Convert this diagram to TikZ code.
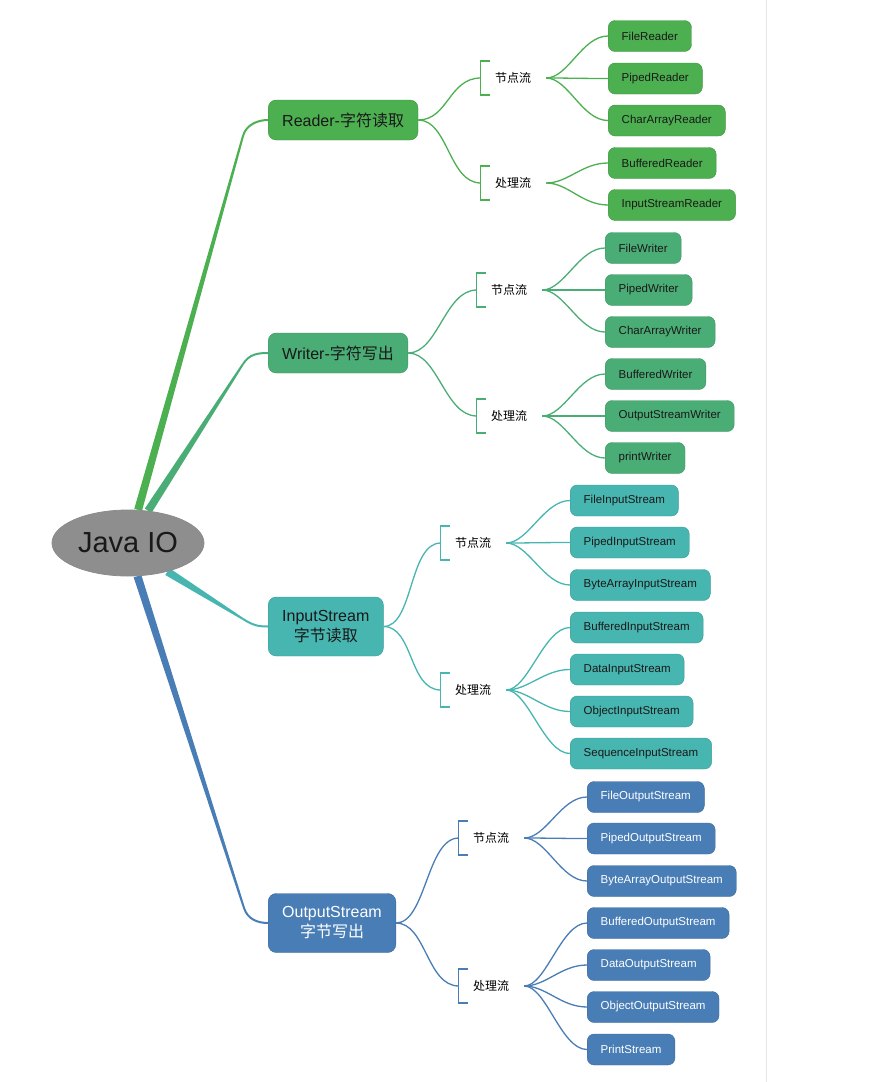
\documentclass[tikz,border=0pt]{standalone}
\usepackage{fontspec}
\setmainfont{Liberation Sans}
\newfontfamily\cjk{Noto Sans CJK SC}
\usetikzlibrary{calc,shapes.geometric,backgrounds}
\definecolor{hijau}{HTML}{4CAF50}
\definecolor{hijaut}{HTML}{4BAD76}
\definecolor{tosca}{HTML}{47B5B0}
\definecolor{biru}{HTML}{497DB5}
\definecolor{abu}{HTML}{8E8E8E}

% batang utama meruncing: warna, titik awal, titik tekuk, node tujuan
\newcommand\batang[4]{%
  \fill[#1] ($(#2)!4pt!90:(#3)$) -- ($(#3)!1pt!-90:(#2)$)
    -- ($(#3)!1pt!90:(#2)$) -- ($(#2)!4pt!-90:(#3)$) -- cycle;
  \draw[#1,line width=2pt] (#3) .. controls ($(#3)!-12pt!(#2)$) and +(-10,0) .. (#4.west);}

\begin{document}
\begin{tikzpicture}[x=1pt,y=-1pt]
    % Sumbu y dibalik, koordinat langsung dalam piksel gambar acuan.
    \tikzset{
      akar/.style={ellipse,draw=black!45,fill=abu,line width=0.8pt,
        minimum width=152pt,minimum height=66pt,inner sep=0pt,
        font=\fontsize{29}{32}\selectfont,text=black!90},
      kategori/.style={draw=#1!85!black,fill=#1,rounded corners=8pt,
        inner xsep=14pt,inner ysep=0pt,minimum height=40pt,anchor=west,
        align=center,font=\fontsize{16}{20}\selectfont,text=black!90},
      daun/.style={draw=#1!85!black,fill=#1,rounded corners=7pt,
        inner xsep=13.5pt,inner ysep=0pt,minimum height=31pt,anchor=west,
        font=\fontsize{11.5}{13}\selectfont,text=black!90},
      sub/.style={inner sep=0pt,font=\cjk\fontsize{12}{14}\selectfont},
      garis/.style={draw=#1,line width=1.3pt}}
    \useasboundingbox (0,0) rectangle (880,1082);
    \draw[black!10,line width=1pt] (766,0) -- (766,1082);

    % Akar dan empat kategori
    \node[akar] (root) at (128,543) {Java IO};
    \node[kategori=hijau] (Reader) at (268,120) {Reader-{\cjk 字符读取}};
    \node[kategori=hijaut] (Writer) at (268,353) {Writer-{\cjk 字符写出}};
    \node[kategori=tosca,minimum height=59pt] (InputStream) at (268,626.5)
      {InputStream\\{\cjk 字节读取}};
    \node[kategori=biru,minimum height=59pt,text=white] (OutputStream) at (268,923)
      {OutputStream\\{\cjk 字节写出}};

    % Label 节点流 / 处理流 dengan kurung siku
    \node[sub] (rNode) at (513,78) {节点流};
    \node[sub] (rProc) at (513,183) {处理流};
    \node[sub] (wNode) at (509,290) {节点流};
    \node[sub] (wProc) at (509,416) {处理流};
    \node[sub] (iNode) at (473,543) {节点流};
    \node[sub] (iProc) at (473,690) {处理流};
    \node[sub] (oNode) at (491,838) {节点流};
    \node[sub] (oProc) at (491,986) {处理流};
    \foreach \s/\w in {rNode/hijau,rProc/hijau,wNode/hijaut,wProc/hijaut,
                       iNode/tosca,iProc/tosca,oNode/biru,oProc/biru} {
      \draw[garis=\w] ($(\s.west)+(-5,-17)$) -- ($(\s.west)+(-14,-17)$)
        -- ($(\s.west)+(-14,17)$) -- ($(\s.west)+(-5,17)$);
      \coordinate (\s-k) at ($(\s.west)+(-14,0)$);
      \coordinate (\s-f) at ($(\s.east)+(15,0)$);
    }
    \foreach \c/\s/\w in {Reader/rNode/hijau,Reader/rProc/hijau,
                          Writer/wNode/hijaut,Writer/wProc/hijaut,
                          InputStream/iNode/tosca,InputStream/iProc/tosca,
                          OutputStream/oNode/biru,OutputStream/oProc/biru}
      \draw[garis=\w] (\c.east) .. controls +(30,0) and +(-32,0) .. (\s-k);

    % Daun: kelas-kelas konkret
    \foreach \leaf/\y/\s in {FileReader/36/rNode,PipedReader/78.5/rNode,
        CharArrayReader/120.5/rNode,BufferedReader/163/rProc,
        InputStreamReader/205/rProc} {
      \node[daun=hijau] (\leaf) at (608,\y) {\leaf};
      \draw[garis=hijau] (\s-f) .. controls +(22,0) and +(-26,0) .. (\leaf.west);
    }
    \foreach \leaf/\y/\s in {FileWriter/248/wNode,PipedWriter/290/wNode,
        CharArrayWriter/332/wNode,BufferedWriter/374/wProc,
        OutputStreamWriter/416/wProc,printWriter/458/wProc} {
      \node[daun=hijaut] (\leaf) at (605,\y) {\leaf};
      \draw[garis=hijaut] (\s-f) .. controls +(22,0) and +(-26,0) .. (\leaf.west);
    }
    \foreach \leaf/\y/\s in {FileInputStream/500.5/iNode,PipedInputStream/542.5/iNode,
        ByteArrayInputStream/585/iNode,BufferedInputStream/627.5/iProc,
        DataInputStream/669.5/iProc,ObjectInputStream/711.5/iProc,
        SequenceInputStream/753.5/iProc} {
      \node[daun=tosca] (\leaf) at (570,\y) {\leaf};
      \draw[garis=tosca] (\s-f) .. controls +(22,0) and +(-26,0) .. (\leaf.west);
    }
    \foreach \leaf/\y/\s in {FileOutputStream/797/oNode,PipedOutputStream/838.5/oNode,
        ByteArrayOutputStream/881/oNode,BufferedOutputStream/923/oProc,
        DataOutputStream/965/oProc,ObjectOutputStream/1007/oProc,
        PrintStream/1049.5/oProc} {
      \node[daun=biru,text=white] (\leaf) at (587,\y) {\leaf};
      \draw[garis=biru] (\s-f) .. controls +(22,0) and +(-26,0) .. (\leaf.west);
    }

    % Batang utama di belakang akar
    \begin{pgfonlayer}{background}
      \batang{hijau}{root.73}{243,136}{Reader}
      \batang{hijaut}{root.58}{243,364}{Writer}
      \batang{tosca}{root.-36}{243,619}{InputStream}
      \batang{biru}{root.-74}{244,908}{OutputStream}
    \end{pgfonlayer}
  \end{tikzpicture}
\end{document}
